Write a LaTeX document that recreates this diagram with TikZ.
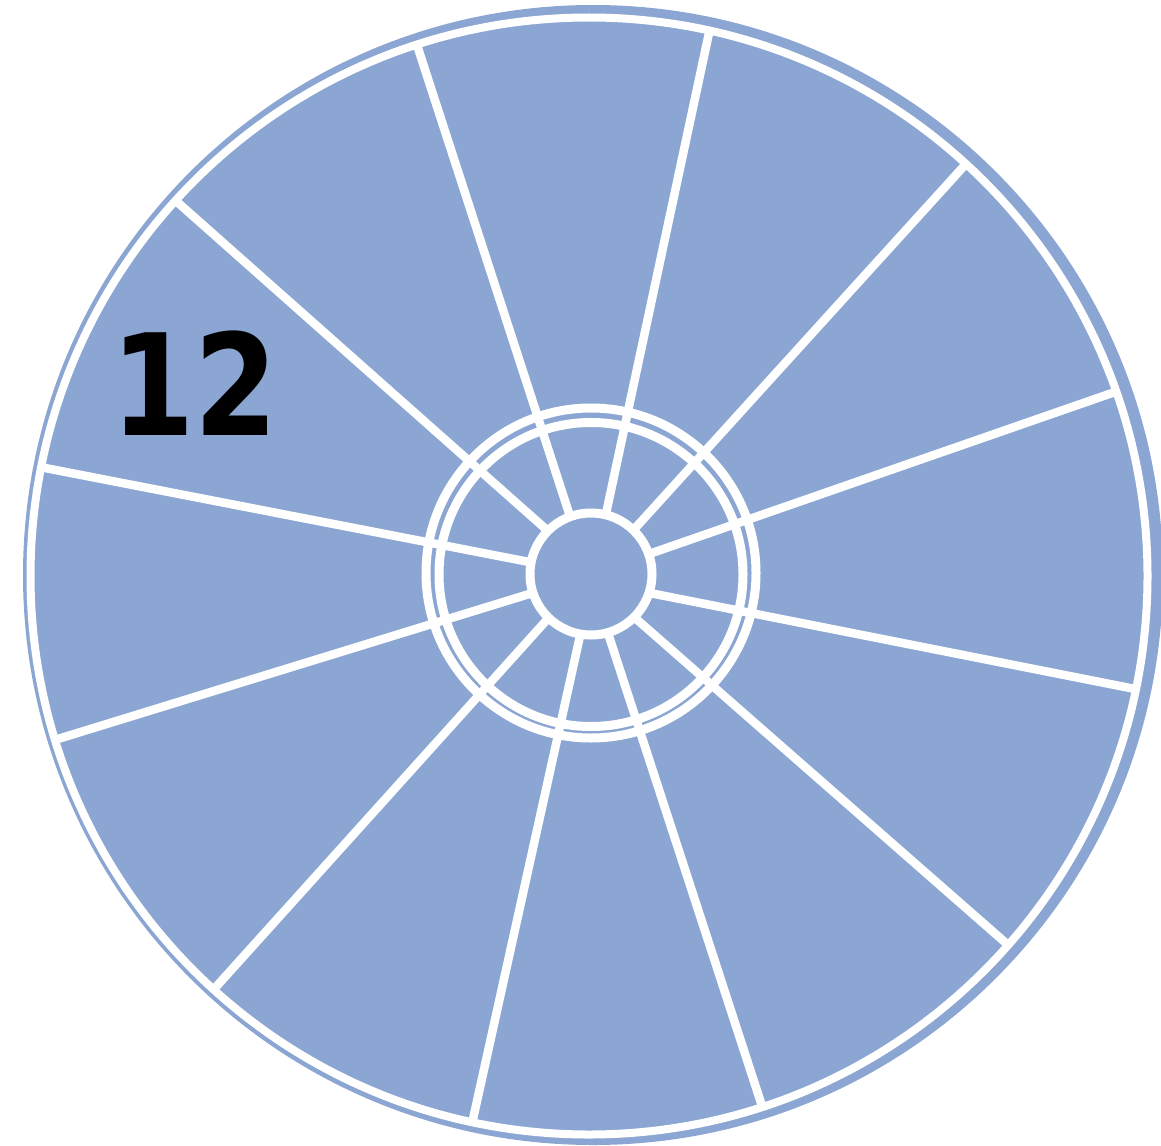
\documentclass[tikz,border=0pt]{standalone}
\usepackage{fontspec}
\newfontfamily\numfont{DejaVu Sans}
\definecolor{diskblue}{RGB}{140,166,211}
\tikzset{
  ring/.style={draw=white, line width=9pt},
  spoke/.style={draw=white, line width=8.5pt},
  label/.style={inner sep=0pt, text=black, font=\numfont\bfseries\fontsize{141}{141}\selectfont}
}
\begin{document}
\begin{tikzpicture}[x=1pt,y=-1pt]
\useasboundingbox (0,0) rectangle (1161,1145);
% disk
\fill[diskblue] (593,575) circle[radius=570];
% outer white ring
\draw[white, line width=8pt] (589,576) circle[radius=558.5];
% hub rings
\draw[ring] (591,573) circle[radius=165];
\draw[ring] (591,574.5) circle[radius=152];
\draw[ring] (591,574) circle[radius=61];
% spokes
\foreach \a/\b [count=\i] in {135/137.76, 110/107.95, 76/77.54, 46/47.55, 19/19.28, -18/-11.69, -45/-41.36, -74/-71.92, -100/-102.06, -134/-132.23, -162/-162.94, 169/168.77}
{
  \coordinate (in\i) at ([shift={(591,574)}]-\a:61);
  \coordinate (out\i) at ([shift={(589,576)}]-\b:559.5);
  \draw[spoke] (in\i) -- (out\i);
}
\node[label] (num) at (194.5,383.5) {\scalebox{0.85}[1]{12}};
\end{tikzpicture}
\end{document}
